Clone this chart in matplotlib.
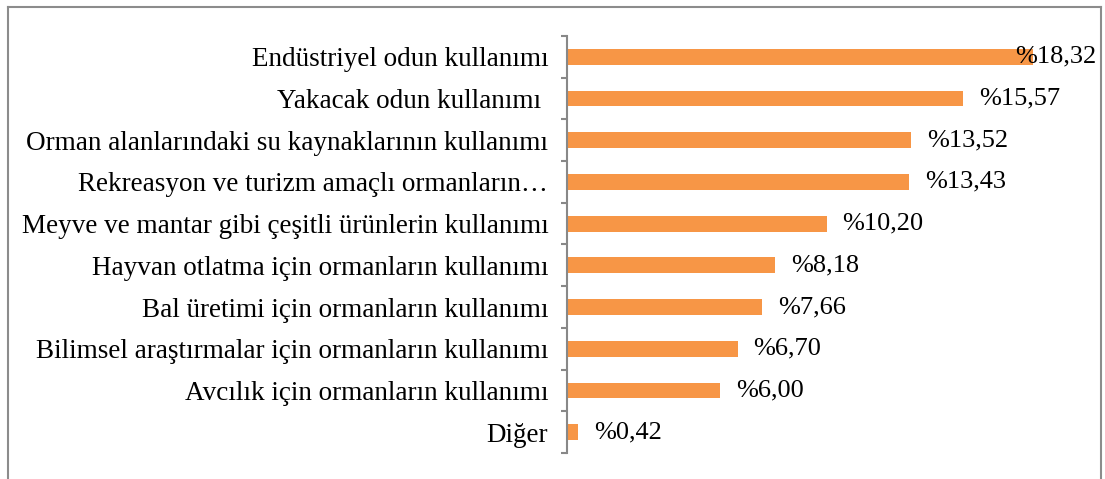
import matplotlib
matplotlib.use("Agg")
from matplotlib import pyplot as plt
from matplotlib.lines import Line2D
import numpy as np

categories = [
    "Endüstriyel odun kullanımı",
    "Yakacak odun kullanımı ",
    "Orman alanlarındaki su kaynaklarının kullanımı",
    "Rekreasyon ve turizm amaçlı ormanların…",
    "Meyve ve mantar gibi çeşitli ürünlerin kullanımı",
    "Hayvan otlatma için ormanların kullanımı",
    "Bal üretimi için ormanların kullanımı",
    "Bilimsel araştırmalar için ormanların kullanımı",
    "Avcılık için ormanların kullanımı",
    "Diğer",
]
values = [18.32, 15.57, 13.52, 13.43, 10.20, 8.18, 7.66, 6.70, 6.00, 0.42]
value_labels = ["%18,32", "%15,57", "%13,52", "%13,43", "%10,20",
                "%8,18", "%7,66", "%6,70", "%6,00", "%0,42"]

plt.rcParams["font.family"] = ["Liberation Serif", "DejaVu Serif"]

W, H = 1105, 479
fig = plt.figure(figsize=(W / 100, H / 100), dpi=100)
ax = fig.add_axes([567 / W, 1 - 453 / H, (1076 - 567) / W, (453 - 36) / H])

y = np.arange(len(categories))
ax.barh(y, values, height=0.38, color="#F79646")
ax.set_xlim(0, 20)
ax.set_ylim(len(categories) - 0.5, -0.5)

ax.set_yticks(y)
ax.set_yticklabels(categories, fontsize=19.5)
ax.tick_params(axis="y", which="major", length=0, pad=13.5)
ax.set_yticks(np.arange(len(categories) + 1) - 0.5, minor=True)
ax.tick_params(axis="y", which="minor", length=4.5, width=1.5, color="#888888")
ax.set_xticks([])
for s in ["top", "right", "bottom"]:
    ax.spines[s].set_visible(False)
ax.spines["left"].set_color("#888888")
ax.spines["left"].set_linewidth(1.5)

for i, (v, lab) in enumerate(zip(values, value_labels)):
    x = min(v, 16.97)
    ax.annotate(lab, (x, i), xytext=(11.5, 0), textcoords="offset points",
                va="center", ha="left", fontsize=19, annotation_clip=False)

# outer frame of the chart
fc = "#8c8c8c"
fig.add_artist(Line2D([8 / W, 8 / W], [0, 1 - 7 / H], color=fc, lw=1.5))
fig.add_artist(Line2D([8 / W, 1101 / W], [1 - 7 / H, 1 - 7 / H], color=fc, lw=1.5))
fig.add_artist(Line2D([1101 / W, 1101 / W], [0, 1 - 7 / H], color=fc, lw=1.5))

fig.savefig("out.png", dpi=100)
